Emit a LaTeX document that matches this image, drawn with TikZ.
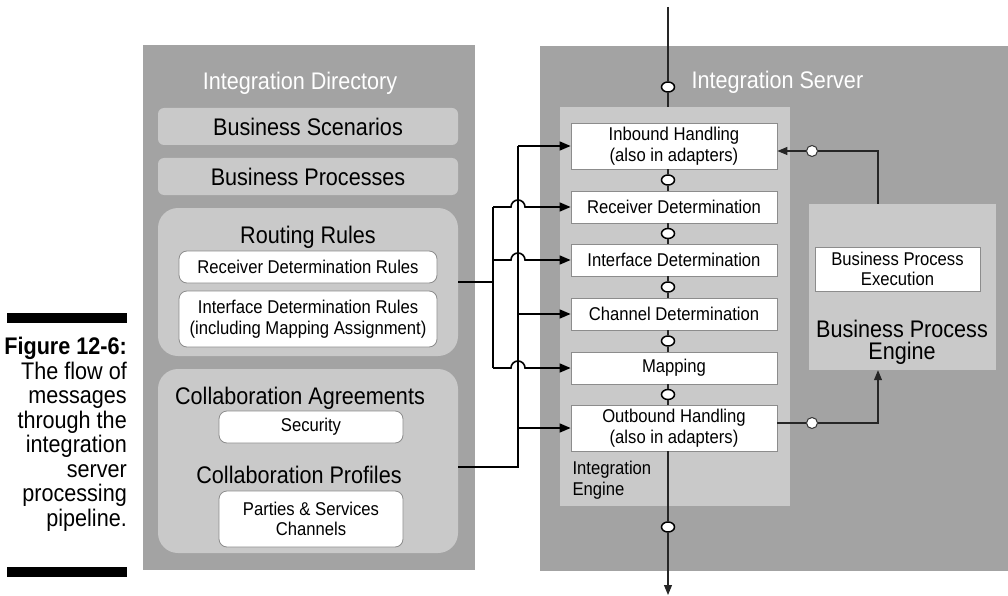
\documentclass[tikz,border=0pt]{standalone}
\usepackage{fontspec}
\setmainfont{Liberation Sans}[FakeStretch=0.9]
\usepackage{tikz}
\usetikzlibrary{arrows.meta,shapes.geometric,positioning,calc}

\newcommand{\bigfont}{\fontsize{24}{22}\selectfont}
\newcommand{\smallfont}{\fontsize{18.5}{20.5}\selectfont}
\newcommand{\capfont}{\fontsize{24}{24.5}\selectfont}

\colorlet{panelgray}{black!36}
\colorlet{boxgray}{black!21}

\tikzset{
  panel/.style={fill=panelgray, inner sep=0pt},
  group/.style={fill=boxgray, inner sep=0pt, rounded corners=#1},
  group/.default=6pt,
  rulebox/.style={fill=white, draw=black!45, line width=0.8pt, rounded corners=8pt, align=center, font=\smallfont, inner sep=0pt},
  stepbox/.style={fill=white, draw=black!45, line width=0.8pt, align=center, font=\smallfont, inner sep=0pt, minimum width=206pt},
  title/.style={text=white, font=\bigfont},
  port/.style={ellipse, draw, fill=white, line width=1.5pt, minimum width=13pt, minimum height=10pt, inner sep=0pt},
  sideport/.style={circle, draw=black!80, fill=white, line width=1pt, minimum size=11pt, inner sep=0pt},
  feed/.style={line width=1.6pt},
  pipe/.style={line width=1.1pt, black!85},
  tip/.style={-{Triangle[length=11pt,width=9pt]}},
}

\begin{document}
\begin{tikzpicture}[x=1pt,y=-1pt]
\useasboundingbox (0,0) rectangle (1008,596);

% caption
\fill (7,313) rectangle (127,323);
\fill (7,567) rectangle (127,577);
\node[anchor=north east, align=right, font=\capfont, inner sep=0pt] (caption) at (127,337)
  {\textbf{Figure 12-6:}\\The flow of\\messages\\through the\\integration\\server\\processing\\pipeline.};

% integration directory
\node[panel, minimum width=332pt, minimum height=525pt] (directory) at (309,307.5) {};
\node[title] (dirtitle) at (300,83) {Integration Directory};
\node[group, minimum width=300pt, minimum height=37pt, font=\bigfont] (scenarios) at (308,126.5) {Business Scenarios};
\node[group, minimum width=300pt, minimum height=37pt, font=\bigfont] (processes) at (308,176.5) {Business Processes};
\node[group=20pt, minimum width=300pt, minimum height=148pt] (routing) at (308,282) {};
\node[font=\bigfont] (routingtitle) at (308,237) {Routing Rules};
\node[rulebox, minimum width=258pt, minimum height=32pt] (recvrules) at (308,267) {Receiver Determination Rules};
\node[rulebox, minimum width=258pt, minimum height=56pt] (ifrules) at (308,319) {Interface Determination Rules\\(including Mapping Assignment)};
\node[group=20pt, minimum width=300pt, minimum height=184pt] (collab) at (308,461) {};
\node[font=\bigfont] (agreements) at (300,398) {Collaboration Agreements};
\node[rulebox, minimum width=184pt, minimum height=32pt] (security) at (311,427) {Security};
\node[font=\bigfont] (profiles) at (299,475) {Collaboration Profiles};
\node[rulebox, minimum width=184pt, minimum height=56pt] (parties) at (311,519) {Parties \& Services\\Channels};

% integration server
\node[panel, minimum width=468pt, minimum height=525pt] (server) at (774,308.5) {};
\node[title, anchor=west] (servertitle) at (688,82) {Integration Server};
\node[group=0pt, minimum width=230pt, minimum height=399pt] (engine) at (675,306.5) {};
\node[font=\smallfont, align=left, anchor=west] (enginelabel) at (569,480) {Integration\\Engine};

\foreach \n/\y/\h/\t in {
  inbound/146/46/{Inbound Handling\\(also in adapters)},
  receiver/207/32/{Receiver Determination},
  interface/260/32/{Interface Determination},
  channel/314/32/{Channel Determination},
  mapping/368/32/{Mapping},
  outbound/428/46/{Outbound Handling\\(also in adapters)}}
  \node[stepbox, minimum height=\h pt] (\n) at (674,\y) {\t};

% pipeline
\foreach \a/\b/\y in {inbound/receiver/180,receiver/interface/233.5,interface/channel/287,channel/mapping/341,mapping/outbound/394.5} {
  \node[port] (p\a) at (668,\y) {};
  \draw[pipe] (\a.south -| p\a) -- (p\a) -- (\b.north -| p\a);
}
\coordinate (src) at (668,7);
\node[port] (pin) at (668,87) {};
\draw[pipe] (src) -- (pin) -- (pin |- engine.north);
\coordinate (dst) at (668,595);
\node[port] (pout) at (668,527) {};
\draw[pipe] (outbound.south -| pout) -- (pout);
\draw[pipe,-{Triangle[length=10pt,width=8pt]}] (pout) -- (dst);

% business process engine
\node[group=0pt, minimum width=187pt, minimum height=166pt] (bpe) at (902.5,287) {};
\node[stepbox, minimum width=165pt, minimum height=44pt] (bpexec) at (897.5,269) {Business Process\\Execution};
\node[font=\bigfont, align=center] (bpetitle) at (902,342) {Business Process\\Engine};
\coordinate (bpx) at (878,0);
\node[sideport] (fb) at (812,151) {};
\draw[pipe] (bpe.north -| bpx) |- (fb);
\draw[pipe,-{Triangle[length=10pt,width=8pt]}] (fb) -- (inbound.east |- fb);
\node[sideport] (ob) at (812,423) {};
\draw[pipe] (outbound.east |- ob) -- (ob);
\draw[pipe,-{Triangle[length=10pt,width=8pt]}] (ob) -| (bpe.south -| bpx);

% rule lookups
\coordinate (busA) at (493,0);
\coordinate (busB) at (518,0);
\draw[feed] (routing.east) -- (busA |- routing.east);
\draw[feed] (busA |- receiver.west) -- (busA |- mapping.west);
\foreach \n in {receiver,interface,mapping}
  \draw[feed,tip] (busA |- \n.west) -- ($(busB |- \n.west)+(-7,0)$) arc[start angle=180,end angle=0,radius=7pt] -- (\n.west);
\coordinate (collabout) at (458,467);
\draw[feed] (collabout) -- (busB |- collabout) -- (busB |- inbound.west);
\foreach \n in {inbound,channel,outbound}
  \draw[feed,tip] (busB |- \n.west) -- (\n.west);
\end{tikzpicture}
\end{document}
